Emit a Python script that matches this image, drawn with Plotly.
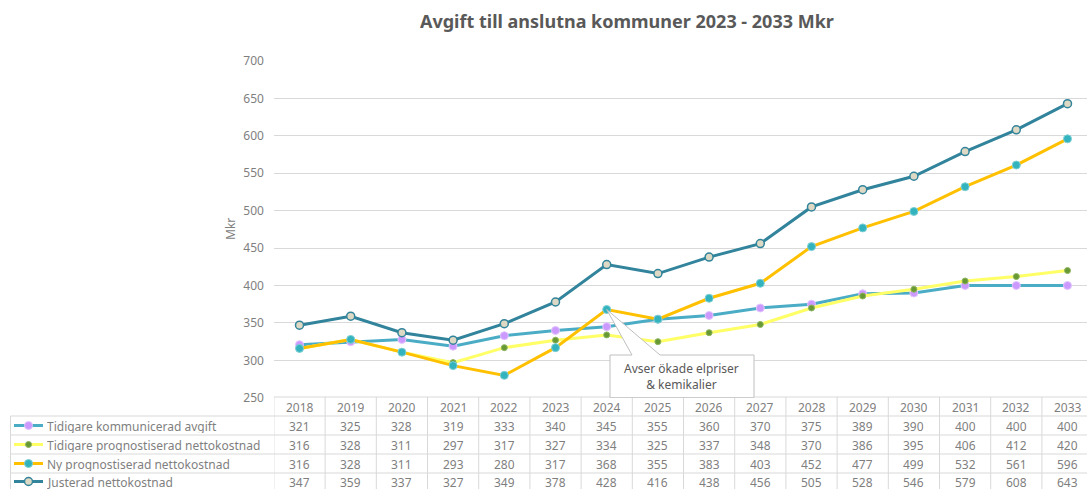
import plotly.graph_objects as go

W, H = 1087, 489

years = list(range(2018, 2034))
series_names = [
    "Tidigare kommunicerad avgift",
    "Tidigare prognostiserad nettokostnad",
    "Ny prognostiserad nettokostnad",
    "Justerad nettokostnad",
]
kommunicerad = [321, 325, 328, 319, 333, 340, 345, 355, 360, 370, 375, 389, 390, 400, 400, 400]
tidigare_progn = [316, 328, 311, 297, 317, 327, 334, 325, 337, 348, 370, 386, 395, 406, 412, 420]
ny_progn = [316, 328, 311, 293, 280, 317, 368, 355, 383, 403, 452, 477, 499, 532, 561, 596]
justerad = [347, 359, 337, 327, 349, 378, 428, 416, 438, 456, 505, 528, 546, 579, 608, 643]
all_values = [kommunicerad, tidigare_progn, ny_progn, justerad]

title_text = "Avgift till anslutna kommuner 2023 - 2033 Mkr"
y_title = "Mkr"
callout_text = "Avser ökade elpriser<br>& kemikalier"

FONT = "Noto Sans"
GREY = "#7f7f7f"
GRID = "#d9d9d9"

styles = [
    dict(line=dict(color="#4bacc6", width=3),
         marker=dict(color="#cc99ff", size=8, line=dict(color="#e3c6ff", width=1))),
    dict(line=dict(color="#ffff66", width=3),
         marker=dict(color="#669933", size=6, line=dict(color="#8fb560", width=1))),
    dict(line=dict(color="#ffc000", width=3),
         marker=dict(color="#33b3bd", size=8, line=dict(color="#7fd0d6", width=1))),
    dict(line=dict(color="#31849b", width=3),
         marker=dict(color="#ddd9c4", size=8, line=dict(color="#31849b", width=1.5))),
]

fig = go.Figure()
for name, vals, st in zip(series_names, all_values, styles):
    fig.add_trace(go.Scatter(x=years, y=vals, name=name, mode="lines+markers",
                             line=st["line"], marker=st["marker"], showlegend=False,
                             cliponaxis=False))

def px(x):
    return x / W

def py(y):
    return 1 - y / H

# plot geometry (pixels)
left_px = 273.9
col_w = 51.2
right_edge_year = 2017.5 + (W - left_px) / col_w
y_top_px, y_bot_px = 61, 397.8

fig.update_layout(
    width=W, height=H,
    margin=dict(l=0, r=0, t=0, b=0, autoexpand=False),
    paper_bgcolor="white", plot_bgcolor="white",
    font=dict(family=FONT, size=12, color=GREY),
    xaxis=dict(domain=[px(left_px), 1], range=[2017.5, right_edge_year], automargin=False,
               showticklabels=False, showgrid=False, zeroline=False, showline=False),
    yaxis=dict(domain=[py(y_bot_px), py(y_top_px)], range=[250, 700], dtick=50, automargin=False,
               gridcolor=GRID, gridwidth=1, zeroline=False, showline=False,
               tickfont=dict(family=FONT, size=12, color=GREY), ticklabelstandoff=9),
)

ann = []
shapes = []
base = dict(showarrow=False, xanchor="center", yanchor="middle")
cell = dict(showarrow=False, xanchor="center", yanchor="middle", height=14, valign="middle")
# title
ann.append(dict(text="<b>" + title_text + "</b>", x=px(627), y=py(21), xref="paper", yref="paper",
                font=dict(family=FONT, size=18, color="#595959"), **base))
# y title
ann.append(dict(text=y_title, x=px(230), y=py(229), xref="paper", yref="paper", textangle=-90,
                font=dict(family=FONT, size=12, color=GREY), **base))

# data table
row_lines = [397, 416, 435, 454, 473]
row_centers = [406.5, 425.5, 444.5, 463.5, 481.5]
tl = dict(color=GRID, width=1)
for i, yl in enumerate(row_lines):
    x0 = left_px if i == 0 else 10.5
    shapes.append(dict(type="line", xref="paper", yref="paper", x0=px(x0), x1=1,
                       y0=py(yl), y1=py(yl), line=tl))
shapes.append(dict(type="line", xref="paper", yref="paper", x0=px(10.5), x1=px(10.5),
                   y0=py(416), y1=0, line=tl))
for k in range(len(years) + 1):
    xb = years[0] - 0.5 + k
    shapes.append(dict(type="line", xref="x", yref="paper", x0=xb, x1=xb,
                       y0=py(397), y1=0, line=tl))
for yr in years:
    ann.append(dict(text=str(yr), x=yr, y=py(row_centers[0]), xref="x", yref="paper",
                    font=dict(family=FONT, size=12, color=GREY), **cell))
for r, vals in enumerate(all_values):
    for yr, v in zip(years, vals):
        ann.append(dict(text=str(v), x=yr, y=py(row_centers[r + 1]), xref="x", yref="paper",
                        font=dict(family=FONT, size=12, color=GREY), **cell))
    # legend key
    yc = row_centers[r + 1]
    st = styles[r]
    shapes.append(dict(type="line", xref="paper", yref="paper", x0=px(14), x1=px(43),
                       y0=py(yc), y1=py(yc), line=dict(color=st["line"]["color"], width=3)))
    rad = st["marker"]["size"] / 2
    shapes.append(dict(type="circle", xref="paper", yref="paper",
                       x0=px(28.5 - rad), x1=px(28.5 + rad), y0=py(yc - rad), y1=py(yc + rad),
                       fillcolor=st["marker"]["color"],
                       line=dict(color=st["marker"]["line"]["color"], width=st["marker"]["line"]["width"])))
    ann.append(dict(text=series_names[r], x=px(45), y=py(yc), xref="paper", yref="paper",
                    showarrow=False, xanchor="left", yanchor="middle", height=14, valign="middle",
                    font=dict(family=FONT, size=12, color=GREY)))

# callout anchored to the 2024 point of the new forecast
tip_x = years[6]
tip_y = ny_progn[6]
def dx(p):
    return 2018 + (p - 299.5) / col_w
def dy(p):
    return 700 - (p - y_top_px) / ((y_bot_px - y_top_px) / 450)
box_l, box_r, box_t, box_b = dx(610), dx(754), dy(355), dy(397.5)
path = (f"M {box_l},{box_t} L {dx(632)},{box_t} L {tip_x},{tip_y} L {dx(660)},{box_t} "
        f"L {box_r},{box_t} L {box_r},{box_b} L {box_l},{box_b} Z")
shapes.append(dict(type="path", xref="x", yref="y", path=path, fillcolor="white",
                   line=dict(color="#bfbfbf", width=1), layer="above"))
ann.append(dict(text=callout_text, x=dx(681), y=dy(376), xref="x", yref="y",
                font=dict(family=FONT, size=12, color="#595959"), **base))

fig.update_layout(annotations=ann, shapes=shapes)
fig.write_html("out.html", config={"displayModeBar": False},
               post_script="document.body.style.margin='0';document.body.style.overflow='hidden';")
